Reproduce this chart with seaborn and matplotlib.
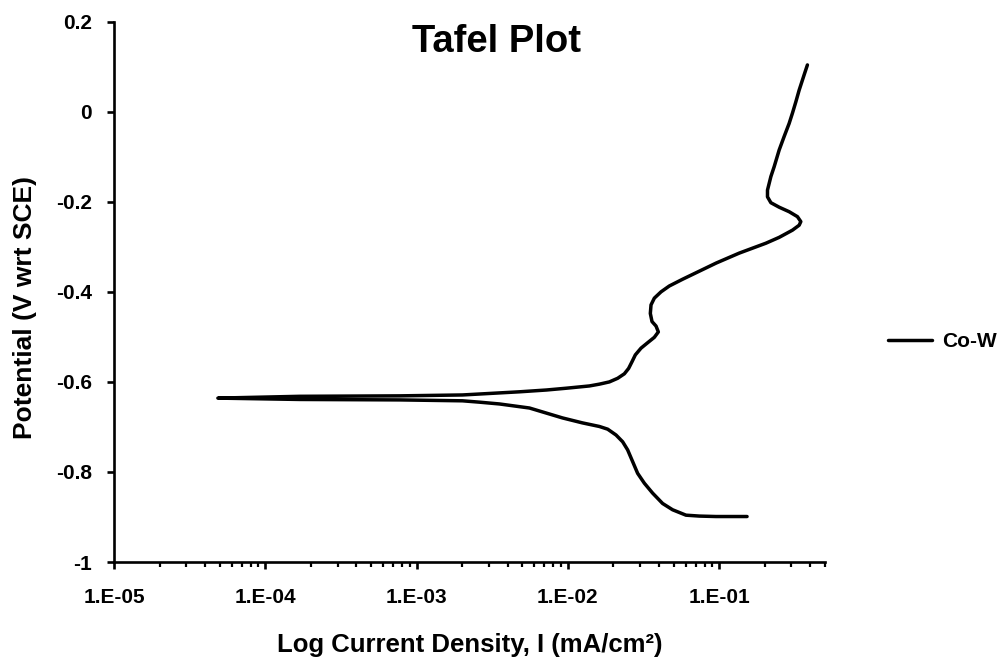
import matplotlib
matplotlib.use("Agg")
import matplotlib.pyplot as plt
import matplotlib.ticker as mticker
import seaborn as sns
import pandas as pd

# ---- data (scan order: cathodic end -> Ecorr -> anodic end)
current = [0.1527, 0.0951, 0.07379, 0.06028, 0.04917, 0.04223, 0.03628, 0.03199,
           0.02888, 0.02677, 0.02481, 0.02300, 0.02080, 0.01831, 0.01614, 0.01246,
           0.00920, 0.00557, 0.00353, 0.00260, 0.00201, 7.72e-4, 1.69e-4, 4.86e-5,
           1.69e-4, 7.72e-4, 0.00201, 0.00478, 0.00721, 0.00977, 0.01386, 0.01614,
           0.01879, 0.02131, 0.02360, 0.02519, 0.02653, 0.02789, 0.03042, 0.03363,
           0.03724, 0.03958, 0.03822, 0.03595, 0.03504, 0.03541, 0.03724, 0.04123,
           0.04677, 0.05725, 0.0955, 0.1355, 0.1659, 0.2033, 0.2489, 0.3047, 0.3374,
           0.3461, 0.3287, 0.2897, 0.2489, 0.2194, 0.2084, 0.2084, 0.2194, 0.2307,
           0.2489, 0.2685, 0.2897, 0.3047, 0.3208, 0.3374, 0.3640, 0.3826]
potential = [-0.899, -0.899, -0.898, -0.896, -0.884, -0.870, -0.847, -0.825,
             -0.803, -0.777, -0.751, -0.733, -0.718, -0.705, -0.699, -0.691,
             -0.680, -0.658, -0.649, -0.645, -0.642, -0.640, -0.639, -0.636,
             -0.632, -0.631, -0.629, -0.622, -0.618, -0.614, -0.609, -0.605,
             -0.600, -0.592, -0.582, -0.570, -0.555, -0.540, -0.525, -0.513,
             -0.501, -0.489, -0.476, -0.466, -0.448, -0.429, -0.414, -0.400,
             -0.387, -0.372, -0.336, -0.314, -0.303, -0.292, -0.279, -0.263, -0.252,
             -0.244, -0.233, -0.222, -0.212, -0.202, -0.189, -0.174, -0.144, -0.122,
             -0.085, -0.055, -0.026, -0.003, 0.022, 0.048, 0.082, 0.104]
series_name = "Co-W"

x_ticks = [1e-5, 1e-4, 1e-3, 1e-2, 1e-1]
x_tick_labels = ["1.E-05", "1.E-04", "1.E-03", "1.E-02", "1.E-01"]
y_ticks = [0.2, 0.0, -0.2, -0.4, -0.6, -0.8, -1.0]
y_tick_labels = ["0.2", "0", "-0.2", "-0.4", "-0.6", "-0.8", "-1"]

title = "Tafel Plot"
x_label = "Log Current Density, I (mA/cm\u00b2)"
y_label = "Potential (V wrt SCE)"

df = pd.DataFrame({"current": current, "potential": potential,
                   "series": [series_name] * len(current)})

sns.set_style("ticks")
plt.rcParams["font.family"] = ["Liberation Sans", "DejaVu Sans"]
plt.rcParams["font.weight"] = "bold"

W, H = 1008, 661
fig = plt.figure(figsize=(W / 100, H / 100), dpi=100)
ax = fig.add_axes([114 / W, 1 - 562 / H, (825 - 114) / W, (562 - 21.7) / H])

sns.lineplot(data=df, x="current", y="potential", hue="series",
             palette=["black"], sort=False, estimator=None, linewidth=2.5,
             ax=ax, legend=True)
for ln in ax.get_lines():
    ln.set_solid_joinstyle("round")
    ln.set_solid_capstyle("round")

ax.set_xscale("log")
ax.set_xlim(1e-5, 0.5)
ax.set_ylim(-1.0, 0.2)

ax.xaxis.set_major_locator(mticker.FixedLocator(x_ticks))
ax.xaxis.set_major_formatter(mticker.FixedFormatter(x_tick_labels))
ax.xaxis.set_minor_locator(mticker.LogLocator(base=10, subs=range(2, 10), numticks=20))
ax.xaxis.set_minor_formatter(mticker.NullFormatter())
ax.yaxis.set_major_locator(mticker.FixedLocator(y_ticks))
ax.yaxis.set_major_formatter(mticker.FixedFormatter(y_tick_labels))
ax.yaxis.set_minor_locator(mticker.NullLocator())

for s in ["top", "right"]:
    ax.spines[s].set_visible(False)
for s in ["left", "bottom"]:
    ax.spines[s].set_linewidth(1.9)
    ax.spines[s].set_color("black")

ax.tick_params(axis="both", which="major", direction="out", length=5, width=1.9,
               color="black", labelsize=15, labelcolor="black",
               bottom=True, left=True, top=False, right=False)
ax.tick_params(axis="x", which="minor", direction="out", length=3.5, width=1.6,
               color="black", bottom=True, top=False)
ax.tick_params(axis="x", which="major", pad=14)
ax.tick_params(axis="y", which="major", pad=11)
for lab in ax.get_xticklabels() + ax.get_yticklabels():
    lab.set_fontweight("bold")

ax.set_xlabel(x_label, fontsize=18.5, fontweight="bold", color="black")
ax.set_ylabel(y_label, fontsize=19, fontweight="bold", color="black")
ax.xaxis.set_label_coords(0.5007, -0.131)
ax.yaxis.set_label_coords(-0.108, 0.471)

fig.text(497 / W, 1 - 52 / H, title, fontsize=27.5, fontweight="bold",
         ha="center", va="baseline", color="black")

handles, labels = ax.get_legend_handles_labels()
ax.get_legend().remove()
leg = fig.legend(handles, labels, loc="center left",
                 bbox_to_anchor=(888 / W, 1 - 342 / H), frameon=False,
                 handlelength=2.1, handletextpad=0.5, borderpad=0,
                 borderaxespad=0, prop={"size": 15, "weight": "bold"})
for t in leg.get_texts():
    t.set_color("black")

fig.savefig("out.png", dpi=100, facecolor="white")
